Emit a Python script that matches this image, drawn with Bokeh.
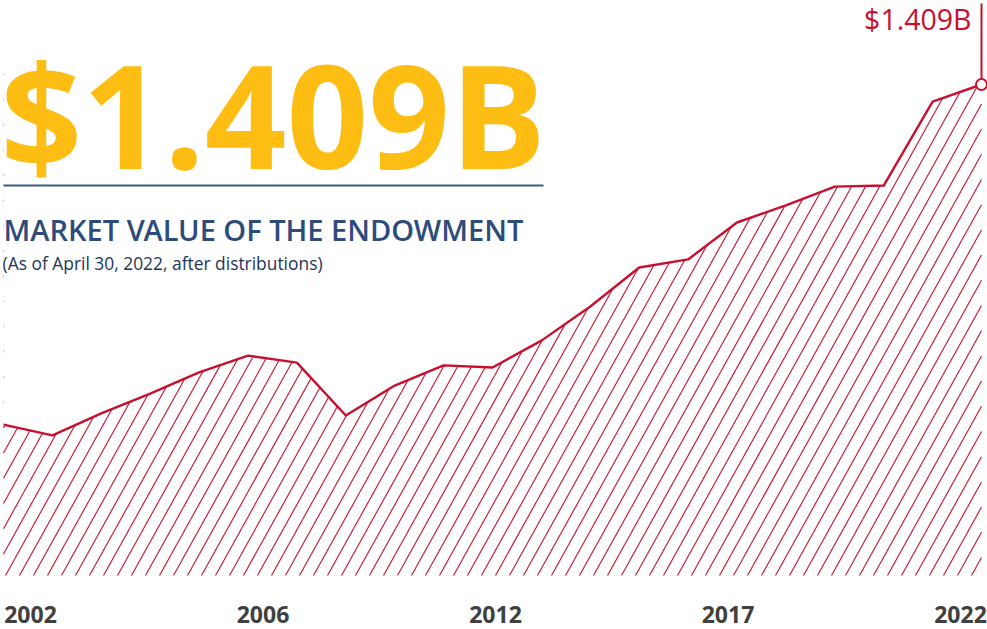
import numpy as np
from bokeh.plotting import figure
from bokeh.models import Range1d, Label, BoxAnnotation, ColumnDataSource
from bokeh.embed import file_html
from bokeh.resources import INLINE

# ---------------- data ----------------
years = list(range(2002, 2023))
market_value_musd = [433, 402, 465, 522, 583, 631, 611, 459, 545, 603, 597,
                     674, 772, 884, 907, 1013, 1062, 1116, 1119, 1360, 1409]
tick_labels = ["2002", "2006", "2012", "2017", "2022"]
headline = "$1.409B"
end_label = "$1.409B"
title = "MARKET VALUE OF THE ENDOWMENT"
subtitle = "(As of April 30, 2022, after distributions)"

# ---------------- styles ----------------
RED = "#C8102E"
YELLOW = "#FDBD12"
BLUE = "#2E4C7A"
DARK_BLUE = "#1E3659"
GREY = "#404040"
FONT = "Open Sans"
SEMI = "Open Sans SemiBold, Open Sans"
DESC = 0.293  # baseline correction (fraction of font size)

W, H = 987, 629
px_per_year = 48.9
x_start = years[0] - 3 / px_per_year
x_end = x_start + W / px_per_year
m_per_px = 2.8697
y_start = -54 * m_per_px
y_end = y_start + H * m_per_px

p = figure(width=W, height=H, x_range=Range1d(x_start, x_end), y_range=Range1d(y_start, y_end),
           output_backend="svg", toolbar_location=None,
           x_axis_location=None, y_axis_location=None, min_border=0,
           outline_line_color=None, background_fill_color="white",
           border_fill_color="white")
p.xgrid.grid_line_color = None
p.ygrid.grid_line_color = None

# ---------------- hatch texture (decorative diagonal lines under the curve) ----------------
x_first, x_last = years[0], years[-1]
top_val = max(market_value_musd) + 40
rise_px = top_val / m_per_px
run_years = (rise_px / 1.8) / px_per_year
step_years = 14.0 / px_per_year
phase = x_first + 2 / px_per_year
starts = np.arange(phase - np.ceil(run_years / step_years) * step_years, x_last, step_years)
t_lo = np.clip((x_first - starts) / run_years, 0, 1)
t_hi = np.clip((x_last - starts) / run_years, 0, 1)
keep = t_hi > t_lo
starts, t_lo, t_hi = starts[keep], t_lo[keep], t_hi[keep]
p.segment(x0=starts + t_lo * run_years, y0=t_lo * top_val,
          x1=starts + t_hi * run_years, y1=t_hi * top_val,
          line_color=RED, line_width=1.1)

# white mask above the curve
src = ColumnDataSource(dict(year=years, val=market_value_musd,
                            top=[y_end] * len(years)))
p.varea(x="year", y1="val", y2="top", source=src, fill_color="white")

# main line
p.line(x="year", y="val", source=src, line_color=RED, line_width=2.4, line_join="round")

# end marker + leader line
p.segment(x0=[x_last], y0=[market_value_musd[-1]], x1=[x_last], y1=[y_start + 626 * m_per_px],
          line_color=RED, line_width=2)
p.scatter(x=[x_last], y=[market_value_musd[-1]], size=11, marker="circle",
          fill_color="white", line_color=RED, line_width=2)

p.add_layout(Label(x=971, y=602 + DESC * 28.5, x_units="screen", y_units="screen", text=end_label,
                   text_font=FONT, text_font_size="28.5px", text_color=RED,
                   text_align="right", text_baseline="alphabetic"))

# ---------------- headline block ----------------
p.add_layout(Label(x=0, y=474 + DESC * 143, x_units="screen", y_units="screen", text=headline,
                   text_font=FONT, text_font_size="143px", text_font_style="bold",
                   text_color=YELLOW, text_align="left", text_baseline="alphabetic"))
p.add_layout(BoxAnnotation(left=3, right=543, bottom=443, top=445,
                           left_units="screen", right_units="screen",
                           bottom_units="screen", top_units="screen",
                           fill_color="#3E5A84", fill_alpha=1, line_alpha=0))
p.add_layout(Label(x=3, y=392 + DESC * 29, x_units="screen", y_units="screen", text=title,
                   text_font=SEMI, text_font_size="29px", text_color=BLUE,
                   text_align="left", text_baseline="alphabetic"))
p.add_layout(Label(x=2, y=361 + DESC * 17.4, x_units="screen", y_units="screen", text=subtitle,
                   text_font=FONT, text_font_size="17.4px", text_color=DARK_BLUE,
                   text_align="left", text_baseline="alphabetic"))

# ---------------- bottom year labels ----------------
lab_step = 232.5
lab_start = -30 / lab_step
p.extra_x_ranges = {"lab": Range1d(lab_start, lab_start + W / lab_step)}
for i, t in enumerate(tick_labels):
    p.add_layout(Label(x=i, y=8 + DESC * 23, x_range_name="lab", y_units="screen", text=t,
                       text_font=FONT, text_font_size="23px", text_font_style="bold",
                       text_color=GREY, text_align="center", text_baseline="alphabetic"))

open("out.html", "w").write(file_html(p, INLINE))
